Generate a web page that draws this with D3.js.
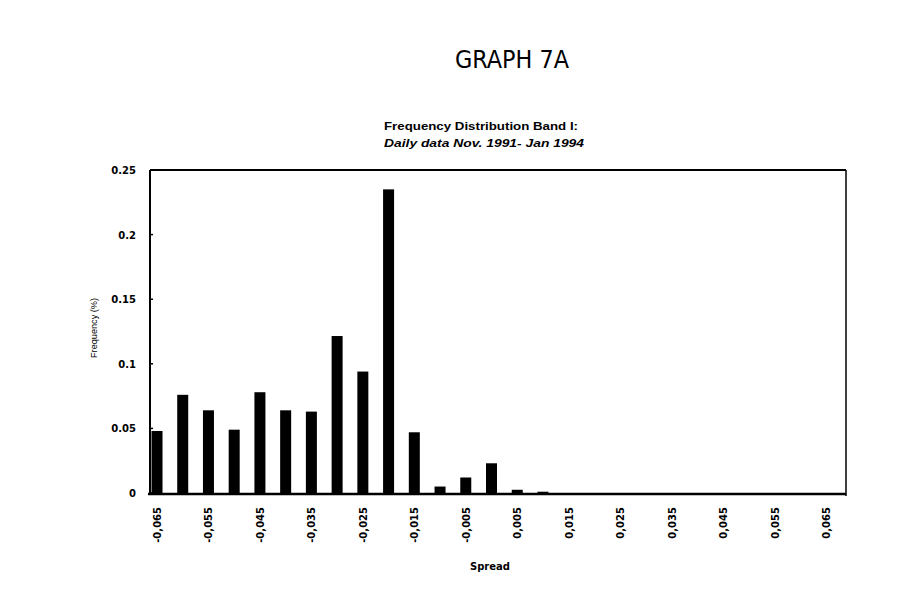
<!DOCTYPE html>
<html><head><meta charset="utf-8">
<script src="https://cdn.jsdelivr.net/npm/d3@7"></script>
<style>body{margin:0;background:#fff}svg{display:block}</style>
</head><body><div id="chart"></div>
<script>
const spreads = [-0.065,-0.06,-0.055,-0.05,-0.045,-0.04,-0.035,-0.03,-0.025,-0.02,-0.015,-0.01,-0.005,0,0.005,0.01,0.015,0.02,0.025,0.03,0.035,0.04,0.045,0.05,0.055,0.06,0.065];
const frequency = [0.048,0.076,0.064,0.049,0.078,0.064,0.063,0.1215,0.094,0.235,0.047,0.005,0.012,0.023,0.0025,0.001,0,0,0,0,0,0,0,0,0,0,0];
const xTickLabels = ["-0,065","-0,055","-0,045","-0,035","-0,025","-0,015","-0,005","0,005","0,015","0,025","0,035","0,045","0,055","0,065"];
const xTickValues = [-0.065,-0.055,-0.045,-0.035,-0.025,-0.015,-0.005,0.005,0.015,0.025,0.035,0.045,0.055,0.065];
const yTicks = [0,0.05,0.1,0.15,0.2,0.25];
const yTickLabels = ["0","0.05","0.1","0.15","0.2","0.25"];

(function(){
const W=922,H=616;
const svg=d3.select("#chart").append("svg").attr("width",W).attr("height",H)
  .style("font-family","'Liberation Sans',Arial,sans-serif");
const pL=150,pR=846,pT=170,pB=493;
const x=d3.scaleLinear().domain([-0.065,0.065]).range([157,826]);
const y=d3.scaleLinear().domain([0,0.25]).range([pB,pT]);
const bw=11;
const dv="'DejaVu Sans',sans-serif";

svg.append("line").attr("x1",pL).attr("x2",pR).attr("y1",pT).attr("y2",pT).attr("stroke","#000").attr("stroke-width",2);
svg.append("line").attr("x1",pR).attr("x2",pR).attr("y1",pT).attr("y2",pB+3).attr("stroke","#000").attr("stroke-width",1.5);
svg.selectAll("rect.bar").data(spreads).enter().append("rect")
  .attr("x",(d)=>x(d)-bw/2).attr("width",bw)
  .attr("y",(d,i)=>y(frequency[i])).attr("height",(d,i)=>pB-y(frequency[i]))
  .attr("fill","#000");
svg.append("line").attr("x1",pL).attr("x2",pL).attr("y1",pT).attr("y2",pB+2).attr("stroke","#000").attr("stroke-width",2);
svg.append("line").attr("x1",pL-2).attr("x2",pR).attr("y1",pB+1).attr("y2",pB+1).attr("stroke","#000").attr("stroke-width",2.5);
svg.selectAll("line.yt").data(yTicks).enter().append("line").attr("x1",pL).attr("x2",pL+3).attr("y1",d=>y(d)).attr("y2",d=>y(d)).attr("stroke","#000").attr("stroke-width",1.5);
svg.selectAll("text.yl").data(yTicks).enter().append("text")
  .attr("x",136).attr("y",d=>y(d)+4).attr("text-anchor","end")
  .style("font-size","10px").style("font-weight","bold").style("font-family",dv).text((d,i)=>yTickLabels[i]);
svg.selectAll("text.xl").data(xTickValues).enter().append("text")
  .attr("transform",d=>`translate(${x(d)+4},507) rotate(-90)`)
  .attr("text-anchor","end").style("font-size","10px").style("font-weight","bold").style("font-family",dv)
  .text((d,i)=>xTickLabels[i]);
svg.append("text").attr("x",490).attr("y",570).attr("text-anchor","middle").style("font-size","10px").style("font-weight","bold").style("font-family",dv).text("Spread");
svg.append("text").attr("transform","translate(97,328) rotate(-90)").attr("text-anchor","middle").style("font-size","9px").attr("textLength",60).attr("lengthAdjust","spacingAndGlyphs").text("Frequency (%)");
svg.append("text").attr("x",512).attr("y",68).attr("text-anchor","middle").style("font-size","25px").style("font-family","'Liberation Sans Narrow','DejaVu Sans Condensed',sans-serif").attr("textLength",114).attr("lengthAdjust","spacingAndGlyphs").text("GRAPH 7A");
svg.append("text").attr("x",384).attr("y",130).style("font-size","10px").style("font-weight","bold").attr("textLength",194).attr("lengthAdjust","spacingAndGlyphs").text("Frequency Distribution Band I:");
svg.append("text").attr("x",384).attr("y",147).style("font-size","10px").style("font-weight","bold").style("font-style","italic").attr("textLength",200).attr("lengthAdjust","spacingAndGlyphs").text("Daily data Nov. 1991- Jan 1994");
})();
</script></body></html>
